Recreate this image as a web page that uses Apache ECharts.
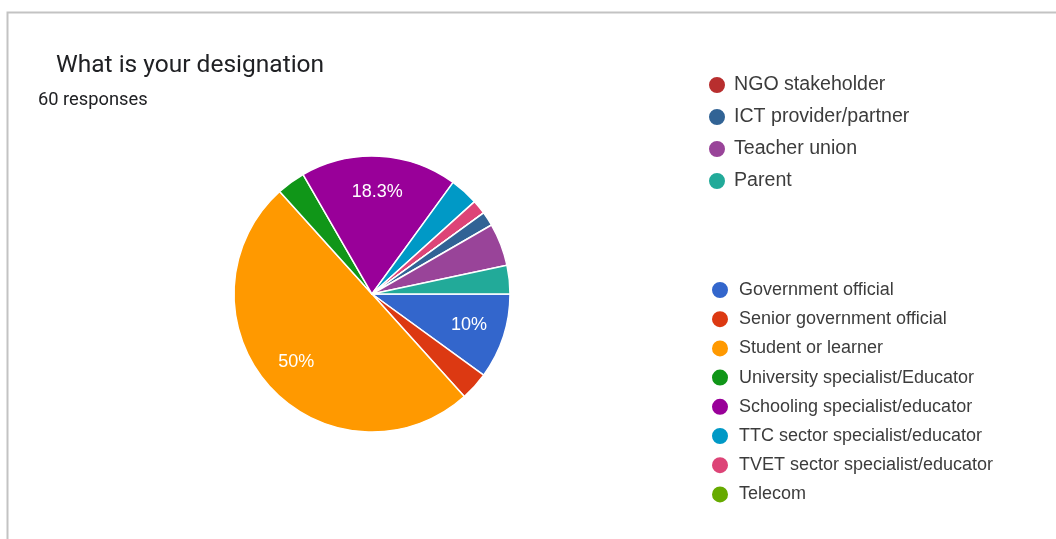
<!DOCTYPE html>
<html>
<head>
<meta charset="utf-8">
<script src="https://cdn.jsdelivr.net/npm/echarts@6/dist/echarts.min.js"></script>
<style>
  html, body { margin: 0; padding: 0; background: #ffffff; }
  #chart { width: 1056px; height: 539px; }
</style>
</head>
<body>
<div id="chart"></div>
<script>
// Survey answers: "What is your designation" (60 responses)
const categories = [
  'Government official',
  'Senior government official',
  'Student or learner',
  'University specialist/Educator',
  'Schooling specialist/educator',
  'TTC sector specialist/educator',
  'TVET sector specialist/educator',
  'Telecom',
  'NGO stakeholder',
  'ICT provider/partner',
  'Teacher union',
  'Parent'
];
const responses = [6, 2, 30, 2, 11, 2, 1, 0, 0, 1, 3, 2];
const colors = [
  '#3366cc', '#dc3912', '#ff9900', '#109618', '#990099', '#0099c6',
  '#dd4477', '#66aa00', '#b82e2e', '#316395', '#994499', '#22aa99'
];
// Legend groups as laid out on the card
const legendTop = ['NGO stakeholder', 'ICT provider/partner', 'Teacher union', 'Parent'];
const legendBottom = [
  'Government official', 'Senior government official', 'Student or learner',
  'University specialist/Educator', 'Schooling specialist/educator',
  'TTC sector specialist/educator', 'TVET sector specialist/educator', 'Telecom'
];

const pieData = categories.map((name, i) => ({
  name: name,
  value: responses[i],
  itemStyle: { color: colors[i] }
}));

const TITLE_FONT = 'Roboto, sans-serif';
const FONT = '"Liberation Sans", Arial, sans-serif';
const chart = echarts.init(document.getElementById('chart'), null, { renderer: 'canvas' });

const legendBase = {
  orient: 'vertical',
  left: 707,
  padding: 0,
  icon: 'circle',
  itemWidth: 18,
  itemHeight: 18,
  selectedMode: false,
  textStyle: { color: '#3c3c3c', fontFamily: FONT, lineHeight: 18 }
};

chart.setOption({
  animation: false,
  color: colors,
  title: [
    {
      text: 'What is your designation',
      left: 51, top: 48,
      textStyle: { fontFamily: TITLE_FONT, fontSize: 24.5, fontWeight: 'normal', color: '#202124' }
    },
    {
      text: '60 responses',
      left: 33, top: 86,
      textStyle: { fontFamily: TITLE_FONT, fontSize: 18.3, fontWeight: 'normal', color: '#202124' }
    }
  ],
  legend: [
    Object.assign({}, legendBase, {
      data: legendTop,
      top: 75,
      itemGap: 12,
      textStyle: Object.assign({}, legendBase.textStyle, { fontSize: 19.6, padding: [0, 0, 0, 3] })
    }),
    Object.assign({}, legendBase, {
      data: legendBottom,
      top: 280,
      left: 710,
      itemGap: 9.2,
      textStyle: Object.assign({}, legendBase.textStyle, { fontSize: 18, padding: [0, 0, 0, 5] })
    })
  ],
  graphic: [
    {
      type: 'polyline',
      silent: true,
      shape: { points: [[7.5, 600], [7.5, 12.5], [1100, 12.5]] },
      style: { stroke: '#c3c3c3', lineWidth: 2, fill: null }
    }
  ],
  series: [
    {
      type: 'pie',
      center: [372, 294],
      radius: [0, 138],
      startAngle: 0,
      clockwise: true,
      silent: true,
      data: pieData,
      label: { show: false },
      labelLine: { show: false },
      itemStyle: { borderColor: '#ffffff', borderWidth: 1.5 }
    },
    {
      // Percentage labels for the larger slices
      type: 'pie',
      center: [372, 294],
      radius: [60, 138],
      startAngle: 0,
      clockwise: true,
      silent: true,
      percentPrecision: 1,
      data: pieData.map(d => ({ name: d.name, value: d.value })),
      itemStyle: { color: 'rgba(0,0,0,0)', borderWidth: 0 },
      labelLine: { show: false },
      label: {
        show: true,
        position: 'inside',
        color: '#ffffff',
        fontFamily: FONT,
        fontSize: 18,
        formatter: p => (p.percent >= 8 ? p.percent + '%' : '')
      },
      emphasis: { disabled: true }
    }
  ]
});
</script>
</body>
</html>
